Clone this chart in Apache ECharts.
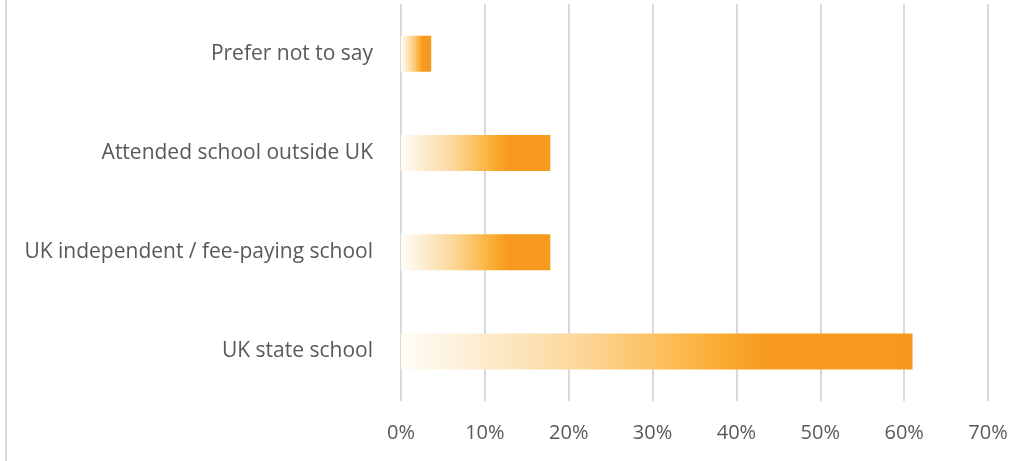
<!DOCTYPE html>
<html>
<head>
<meta charset="utf-8">
<script src="https://cdn.jsdelivr.net/npm/echarts@6/dist/echarts.min.js"></script>
<style>
html,body{margin:0;padding:0;background:#fff;}
#chart{width:1029px;height:461px;}
</style>
</head>
<body>
<div id="chart"></div>
<script>
const categories = ["UK state school", "UK independent / fee-paying school", "Attended school outside UK", "Prefer not to say"];
const values = [0.61, 0.178, 0.178, 0.036];
const tickLabels = ["0%", "10%", "20%", "30%", "40%", "50%", "60%", "70%"];

const chart = echarts.init(document.getElementById('chart'));
const barGradient = new echarts.graphic.LinearGradient(0, 0, 1, 0, [
  {offset: 0, color: '#FFFDF8'},
  {offset: 0.17, color: '#FCEBCB'},
  {offset: 0.34, color: '#FCD89C'},
  {offset: 0.5, color: '#FCC060'},
  {offset: 0.62, color: '#FAAC32'},
  {offset: 0.72, color: '#F79A1E'},
  {offset: 1, color: '#F7991D'}
]);
chart.setOption({
  animation: false,
  backgroundColor: '#ffffff',
  textStyle: {fontFamily: 'Open Sans'},
  graphic: [{
    type: 'line',
    shape: {x1: 6, y1: 0, x2: 6, y2: 461},
    style: {stroke: '#d9d9d9', lineWidth: 2}
  }],
  grid: {left: 401, right: 41, top: 4, bottom: 60, containLabel: false},
  xAxis: {
    type: 'value',
    min: 0, max: 0.7, interval: 0.1,
    axisLine: {show: false},
    axisTick: {show: false},
    splitLine: {show: true, lineStyle: {color: '#d9d9d9', width: 2}},
    axisLabel: {
      color: '#595959', fontSize: 20, margin: 22,
      formatter: function (v) { return tickLabels[Math.round(v * 10)]; }
    }
  },
  yAxis: {
    type: 'category',
    data: categories,
    axisLine: {show: false},
    axisTick: {show: false},
    axisLabel: {color: '#595959', fontSize: 21, margin: 28}
  },
  series: [{
    type: 'bar',
    data: values,
    barWidth: 36,
    itemStyle: {color: barGradient}
  }]
});
</script>
</body>
</html>
